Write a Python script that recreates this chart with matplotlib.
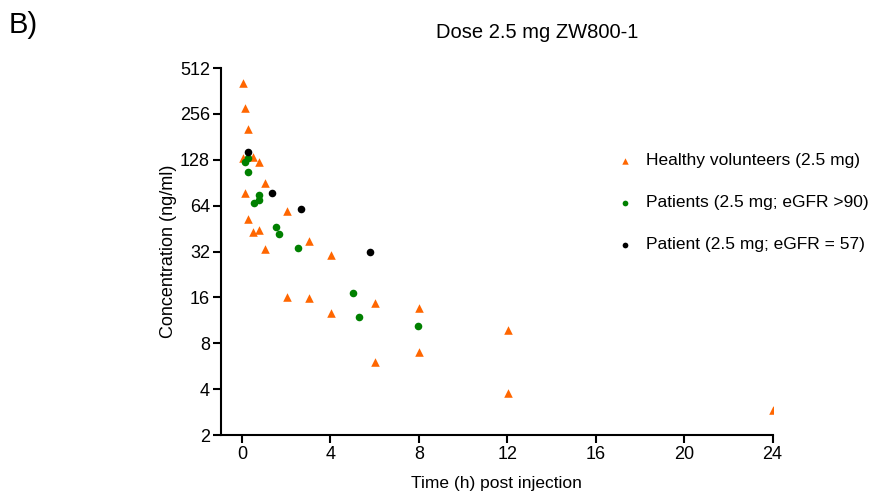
import matplotlib
matplotlib.use("Agg")
import matplotlib.pyplot as plt
from matplotlib.ticker import FixedLocator, FixedFormatter, NullLocator

plt.rcParams['font.family'] = ['Liberation Sans', 'DejaVu Sans']

# Healthy volunteers (2.5 mg)
hv_time = [0.05, 0.05, 0.12, 0.12, 0.27, 0.27, 0.52, 0.52, 0.77, 0.77, 1.02, 1.02,
           2.03, 2.03, 3.02, 3.02, 4.02, 4.02, 6.02, 6.02, 8.02, 8.02, 12.02, 12.02, 24.0]
hv_conc = [410, 132, 281, 77, 203, 52.5, 133, 42.7, 124, 44.6, 90, 33.4,
           59, 16.1, 37.6, 15.8, 30.4, 12.7, 14.7, 6.0, 13.6, 7.06, 9.77, 3.76, 2.9]

# Patients (2.5 mg; eGFR >90)
pt_time = [0.27, 0.15, 0.27, 0.78, 0.78, 0.55, 1.55, 1.67, 2.55, 5.02, 5.28, 7.95]
pt_conc = [131, 123, 106, 75, 69.7, 67, 46, 41.6, 33.5, 17.1, 11.9, 10.4]

# Patient (2.5 mg; eGFR = 57)
p57_time = [0.27, 1.37, 2.65, 5.78]
p57_conc = [143, 77, 61, 31.6]

yticks = [2, 4, 8, 16, 32, 64, 128, 256, 512]
xticks = [0, 4, 8, 12, 16, 20, 24]

fig = plt.figure(figsize=(8.75, 4.94), dpi=100)
ax = fig.add_axes([221/875, 1-435/494, (772.5-221)/875, (435-68)/494])

h1 = ax.scatter(hv_time, hv_conc, marker='^', s=38, color='#FF6600', linewidths=0,
                label='Healthy volunteers (2.5 mg)', zorder=3)
h2 = ax.scatter(pt_time, pt_conc, marker='o', s=30, color='#008000', linewidths=0,
                label='Patients (2.5 mg; eGFR >90)', zorder=3)
h3 = ax.scatter(p57_time, p57_conc, marker='o', s=30, color='black', linewidths=0,
                label='Patient (2.5 mg; eGFR = 57)', zorder=4)

ax.set_yscale('log', base=2)
ax.set_ylim(2, 512)
ax.set_xlim(-0.95, 24)
ax.yaxis.set_major_locator(FixedLocator(yticks))
ax.yaxis.set_major_formatter(FixedFormatter([str(v) for v in yticks]))
ax.yaxis.set_minor_locator(NullLocator())
ax.set_xticks(xticks)
ax.set_xticklabels([str(v) for v in xticks])

for s in ['top', 'right']:
    ax.spines[s].set_visible(False)
for s in ['left', 'bottom']:
    ax.spines[s].set_linewidth(1.5)
ax.tick_params(axis='both', direction='out', length=6, width=1.5, labelsize=13, pad=2)

ax.set_xlabel('Time (h) post injection', fontsize=12.5, labelpad=9)
ax.set_ylabel('Concentration (ng/ml)', fontsize=13, labelpad=2)

fig.text(537/875, 1-33/494, 'Dose 2.5 mg ZW800-1', ha='center', va='center', fontsize=14.5)
fig.text(9/875, 1-25/494, 'B)', ha='left', va='center', fontsize=21)

leg = fig.legend(handles=[h1, h2, h3], loc='upper left', bbox_to_anchor=(616/875, 1-153/494),
                 frameon=False, fontsize=12.5, labelspacing=1.55, handlelength=1.0,
                 handletextpad=0.7, markerscale=0.75, borderaxespad=0, borderpad=0)

fig.savefig('out.png', dpi=100)
